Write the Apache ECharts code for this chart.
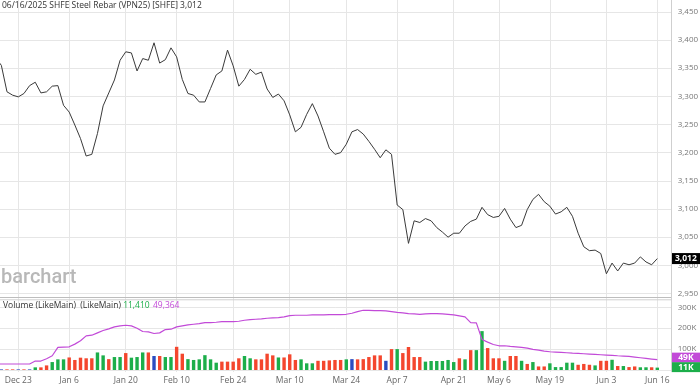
<!DOCTYPE html>
<html><head><meta charset="utf-8">
<script src="https://cdn.jsdelivr.net/npm/echarts@6/dist/echarts.min.js"></script>
<style>html,body{margin:0;padding:0;background:#fff}#c{width:700px;height:389px}</style>
</head><body><div id="c"></div>
<script>
const titleText = '06/16/2025 SHFE Steel Rebar (VPN25) [SHFE] 3,012';
const volumeLabel = 'Volume (LikeMain)  (LikeMain) ';
const lastVolumeText = '11,410';
const lastMAText = '49,364';

const dates = [
 '12-17','12-18','12-19','12-20','12-23','12-24','12-25','12-26','12-27','12-30','12-31',
 '01-02','01-03','01-06','01-07','01-08','01-09','01-10','01-13','01-14','01-15','01-16','01-17',
 '01-20','01-21','01-22','01-23','01-24','01-27',
 '02-05','02-06','02-07','02-10','02-11','02-12','02-13','02-14','02-17','02-18','02-19','02-20','02-21',
 '02-24','02-25','02-26','02-27','02-28',
 '03-03','03-04','03-05','03-06','03-07','03-10','03-11','03-12','03-13','03-14','03-17','03-18','03-19','03-20','03-21',
 '03-24','03-25','03-26','03-27','03-28','03-31',
 '04-01','04-02','04-03','04-07','04-08','04-09','04-10','04-11','04-14','04-15','04-16','04-17','04-18',
 '04-21','04-22','04-23','04-24','04-25','04-28','04-29','04-30',
 '05-06','05-07','05-08','05-09','05-12','05-13','05-14','05-15','05-16','05-19','05-20','05-21','05-22','05-23',
 '05-26','05-27','05-28','05-29','05-30',
 '06-03','06-04','06-05','06-06','06-09','06-10','06-11','06-12','06-13','06-16'
];

const prices = [
 3368,3355,3308,3302,3299,3305,3319,3325,3306,3308,
 3318,3319,3284,3272,3249,3225,3194,3197,3234,3283,
 3306,3329,3364,3379,3377,3345,3367,3364,3395,3359,
 3365,3386,3370,3330,3305,3302,3290,3290,3314,3338,
 3345,3382,3354,3318,3330,3348,3339,3343,3313,3298,
 3304,3292,3267,3237,3245,3268,3287,3265,3237,3208,
 3197,3200,3215,3237,3241,3233,3220,3206,3191,3205,
 3197,3107,3099,3039,3079,3076,3083,3079,3067,3059,
 3050,3057,3057,3070,3078,3082,3103,3090,3085,3087,
 3101,3082,3067,3071,3099,3117,3126,3113,3105,3091,
 3095,3103,3087,3057,3033,3026,3027,3021,2985,3004,
 2990,3004,3001,3004,3015,3006,3001,3012
];

const volumes = [
 3000,3000,3000,3000,3000,3000,3000,12700,12700,22000,
 38000,51000,51000,60000,48000,59000,56000,56000,84000,70000,
 52000,62000,62000,81000,59000,62000,84000,84000,67000,67000,
 62000,62000,111000,78000,52000,48000,51000,71000,51000,35000,
 40000,40000,40000,56000,67000,56000,51000,51000,78000,70000,
 60000,60000,75000,48000,51000,32000,32000,44000,44000,46000,
 48000,48000,51000,52000,51000,52000,62000,70000,70000,44000,
 100000,100000,81000,110000,62000,62000,40000,43000,43000,43000,
 48000,38000,56000,51000,95000,95000,186000,105000,56000,56000,
 44000,67000,67000,44000,29000,38000,17000,17000,32000,14000,
 14000,35000,35000,25000,29000,25000,22000,44000,44000,49000,
 19000,19000,14000,17000,13000,13000,13000,11410
];

// u = up (green), d = down (red), n = unchanged (blue)
const volumeDirection = [
 'd','n','d','d','n','d','n','u','d','d',
 'u','u','u','d','d','d','d','d','u','u',
 'd','u','u','d','u','u','u','d','n','d',
 'u','u','d','d','u','u','u','u','u','u',
 'd','d','d','d','u','u','d','d','d','d',
 'u','d','d','d','u','u','u','d','d','d',
 'd','d','u','n','d','d','d','d','d','n',
 'd','u','d','d','d','d','u','u','u','u',
 'u','u','d','u','d','u','u','d','d','d',
 'u','d','d','u','d','u','d','d','u','u',
 'u','u','u','d','d','d','u','d','d','u',
 'd','u','d','d','u','u','d','u'
];

const volumeMA = [
 28600,28600,28600,28600,28600,28600,28600,42800,42800,54000,
 68200,107900,109500,111100,123800,139700,163500,166600,177700,188900,
 196800,206300,211100,214200,211100,200000,184100,182500,174600,177700,
 193600,195200,206300,211100,215800,219000,222200,226900,226900,228500,
 231700,231700,231700,233300,238100,241200,242800,244400,247600,249200,
 250700,253900,260300,261900,261900,261900,263400,263400,263400,265000,
 265000,265000,266600,271400,279300,285700,285700,284100,284100,282500,
 279300,276100,273000,269800,268200,266600,268200,269800,269800,268200,
 266600,263400,258700,253900,226900,225300,146000,133300,122200,115900,
 115900,112700,111100,107900,104700,98400,95200,90500,87300,85700,
 84100,82500,80900,79400,77800,76200,74600,73000,71400,69800,
 68200,66700,65100,61900,58700,55500,52400,49364
];

const tickDates = ['12-23','01-06','01-20','02-10','02-24','03-10','03-24','04-07','04-21','05-06','05-19','06-03','06-16'];
const tickLabels = ['Dec 23','Jan 6','Jan 20','Feb 10','Feb 24','Mar 10','Mar 24','Apr 7','Apr 21','May 6','May 19','Jun 3','Jun 16'];

const priceMin = 2950, priceMax = 3450, priceStep = 50;
const volMin = 0, volMax = 300000, volStep = 100000;

// ---------- layout / style ----------
const FONT = '"Open Sans", "Noto Sans", sans-serif';
const GREEN = '#1cae4a', RED = '#f4462d', BLUE = '#2b4cc0', PURPLE = '#c24ad8';
const colorMap = { u: GREEN, d: RED, n: BLUE };
const plotRight = 28.3;
const pxPerDay = 639 / 113;
const firstTick = dates.indexOf(tickDates[0]);
const xMin = firstTick - 18.3 / pxPerDay;
const xMax = xMin + (700 - plotRight) / pxPerDay;
const tickPos = tickDates.map(d => dates.indexOf(d));
const last = dates.length - 1;

const chart = echarts.init(document.getElementById('c'), null, { renderer: 'canvas' });

const fmtComma = v => Math.round(v).toLocaleString('en-US');

const option = {
  animation: false,
  backgroundColor: '#fff',
  textStyle: { fontFamily: FONT },
  grid: [
    { left: 0, right: plotRight, top: 11.8, height: 281.7, outerBoundsMode: 'none', containLabel: false },
    { left: 0, right: plotRight, top: 0, height: 372, outerBoundsMode: 'none', containLabel: false },
    { left: 0, right: plotRight, top: 307.3, height: 62.7, outerBoundsMode: 'none', containLabel: false }
  ],
  xAxis: [
    { gridIndex: 0, type: 'value', min: xMin, max: xMax, show: false, splitLine: { show: false } },
    { gridIndex: 1, type: 'value', min: xMin, max: xMax,
      axisLine: { show: false }, axisTick: { show: false, customValues: tickPos },
      axisLabel: { customValues: tickPos, margin: 4, fontSize: 8.5, color: '#666', fontFamily: FONT,
        formatter: v => tickLabels[tickPos.indexOf(Math.round(v))] || '' },
      splitLine: { show: true, lineStyle: { color: '#e6e6e6', width: 1 } } },
    { gridIndex: 2, type: 'value', min: xMin, max: xMax, show: false, splitLine: { show: false } }
  ],
  yAxis: [
    { gridIndex: 0, type: 'value', position: 'right', min: priceMin, max: priceMax, interval: priceStep,
      axisLine: { show: false }, axisTick: { show: false },
      axisLabel: { margin: 6, fontSize: 8, color: '#777', fontFamily: FONT, formatter: fmtComma },
      splitLine: { show: true, lineStyle: { color: '#e6e6e6', width: 1 } } },
    { gridIndex: 1, type: 'value', show: false, min: 0, max: 1, splitLine: { show: false } },
    { gridIndex: 2, type: 'value', position: 'right', min: volMin, max: volMax, interval: volStep,
      axisLine: { show: false }, axisTick: { show: false },
      axisLabel: { margin: 6, fontSize: 8, color: '#777', fontFamily: FONT,
        formatter: v => v === 0 ? '' : (v / 1000) + 'K' },
      splitLine: { show: true, lineStyle: { color: '#e6e6e6', width: 1 } } }
  ],
  series: [
    { type: 'line', xAxisIndex: 0, yAxisIndex: 0, clip: false, symbol: 'none',
      data: prices.map((v, i) => [i, v]),
      lineStyle: { color: '#3a3a3a', width: 1 },
      markPoint: { symbol: 'rect', symbolSize: [28.5, 11], symbolOffset: [28.6, 0],
        itemStyle: { color: '#000' },
        label: { show: true, position: 'inside', color: '#fff', fontWeight: 'bold', fontSize: 8.5, fontFamily: FONT,
          formatter: () => fmtComma(prices[last]) },
        data: [{ coord: [last, prices[last]] }] } },
    { type: 'bar', xAxisIndex: 2, yAxisIndex: 2, barWidth: 3.4, clip: false,
      data: volumes.map((v, i) => ({ value: [i, v], itemStyle: { color: colorMap[volumeDirection[i]] } })),
      markPoint: { symbol: 'rect', symbolSize: [28.5, 10], symbolOffset: [28.6, -0.5],
        itemStyle: { color: GREEN },
        label: { show: true, position: 'inside', color: '#fff', fontWeight: 'bold', fontSize: 8.5, fontFamily: FONT,
          formatter: () => Math.round(volumes[last] / 1000) + 'K' },
        data: [{ coord: [last, volumes[last]] }] } },
    { type: 'line', xAxisIndex: 2, yAxisIndex: 2, clip: false, symbol: 'none',
      data: volumeMA.map((v, i) => [i, v]),
      lineStyle: { color: PURPLE, width: 1.2 },
      markPoint: { symbol: 'rect', symbolSize: [28.5, 9.5], symbolOffset: [28.6, -2.3],
        itemStyle: { color: PURPLE },
        label: { show: true, position: 'inside', color: '#fff', fontWeight: 'bold', fontSize: 8.5, fontFamily: FONT,
          formatter: () => Math.round(volumeMA[last] / 1000) + 'K' },
        data: [{ coord: [last, volumeMA[last]] }] } }
  ],
  graphic: [
    { type: 'line', shape: { x1: 0, y1: 297.5, x2: 700 - plotRight, y2: 297.5 }, style: { stroke: '#bdbdbd', lineWidth: 1.2 }, z: 10 },
    { type: 'line', shape: { x1: 0, y1: 299.8, x2: 700 - plotRight, y2: 299.8 }, style: { stroke: '#d0d0d0', lineWidth: 1 }, z: 10 },
    { type: 'line', shape: { x1: 671.5, y1: 0, x2: 671.5, y2: 372 }, style: { stroke: '#cfcfcf', lineWidth: 1 }, z: 10 },
    { type: 'text', left: 2, top: 1, z: 20,
      style: { text: titleText, fontSize: 8.5, fill: '#333', fontFamily: FONT } },
    { type: 'text', left: 1, top: 268, z: 5,
      style: { text: 'barchart', fontSize: 20, fontWeight: 500, fill: '#b8b8b8', fontFamily: 'Roboto, sans-serif' } },
    { type: 'text', left: 3, top: 300, z: 20,
      style: { text: '{a|' + volumeLabel + '}{b|' + lastVolumeText + '} {c|' + lastMAText + '}',
        rich: { a: { fontSize: 8.5, fill: '#333', fontFamily: FONT },
                b: { fontSize: 8.5, fill: GREEN, fontFamily: FONT },
                c: { fontSize: 8.5, fill: PURPLE, fontFamily: FONT } } } }
  ]
};
chart.setOption(option);
</script></body></html>
